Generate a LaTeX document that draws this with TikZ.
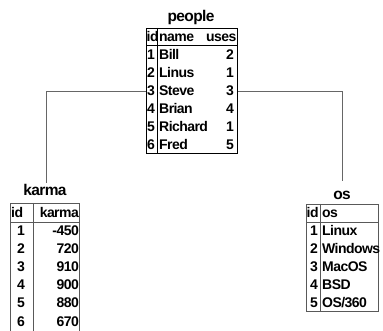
\documentclass[tikz,border=0pt]{standalone}
\usepackage{fontspec}
\newfontfamily\hv{Liberation Sans Bold}[LetterSpace=-4]
\begin{document}
\begin{tikzpicture}[x=1pt,y=-1pt,
  txt/.style={inner sep=0pt, font=\hv\fontsize{14}{14}\selectfont, text height=10pt, text depth=0pt},
  ttl/.style={txt, font=\hv\fontsize{15.5}{15.5}\selectfont},
  tbl/.style={draw=black, line width=0.8pt},
  tblg/.style={draw=black!65, line width=0.8pt},
  conn/.style={draw=black!60, line width=0.8pt}]
\useasboundingbox (0,0) rectangle (383,331);
% people
\node[ttl] (ptitle) at (191,17) {people};
\node[tbl, rectangle, minimum width=91pt, minimum height=125pt, inner sep=0pt, anchor=north west] (ptab) at (146,28) {};
\draw[tbl] (146,45) -- (237,45);
\draw[tbl] (157,28) -- (157,153);
\node[txt, anchor=west] (ph1) at (146.5,37) {id};
\node[txt, anchor=west] (ph2) at (159,37) {name};
\node[txt, anchor=east] (ph3) at (236.5,37) {uses};
\foreach \i/\n/\u [count=\k] in {1/Bill/2,2/Linus/1,3/Steve/3,4/Brian/4,5/Richard/1,6/Fred/5}{
  \node[txt, anchor=west] (pid\k) at (147,37+18*\k) {\i};
  \node[txt, anchor=west] (pn\k) at (159,37+18*\k) {\n};
  \node[txt, anchor=east] (pu\k) at (234,37+18*\k) {\u};
}
% karma
\node[ttl] (ktitle) at (45,191) {karma};
\draw[tblg] (10,331) -- (10,203) -- (79,203) -- (79,331);
\draw[tblg] (10,222) -- (79,222);
\draw[tblg] (33,203) -- (33,331);
\node[txt, anchor=west] (kh1) at (11,213) {id};
\node[txt, anchor=east] (kh2) at (79,213) {karma};
\foreach \i/\v [count=\k] in {1/-450,2/720,3/910,4/900,5/880,6/670}{
  \node[txt] (kid\k) at (21,213+18*\k) {\i};
  \node[txt, anchor=east] (kv\k) at (79,213+18*\k) {\v};
}
% os
\node[ttl] (otitle) at (342,195) {os};
\node[tblg, rectangle, minimum width=72pt, minimum height=107pt, inner sep=0pt, anchor=north west] (otab) at (306,204) {};
\draw[tblg] (306,222) -- (378,222);
\draw[tblg] (320,204) -- (320,311);
\node[txt, anchor=west] (oh1) at (306.5,213) {id};
\node[txt, anchor=west] (oh2) at (322,213) {os};
\foreach \i/\n [count=\k] in {1/Linux,2/Windows,3/MacOS,4/BSD,5/{OS/360}}{
  \node[txt, anchor=east] (oid\k) at (318,213+18*\k) {\i};
  \node[txt, anchor=west] (on\k) at (322,213+18*\k) {\n};
}
% connectors
\coordinate (kc) at (46,183);
\coordinate (oc) at (342,181);
\draw[conn] (ptab.west |- pid3) -| (kc);
\draw[conn] (ptab.east |- pu3) -| (oc);
\end{tikzpicture}
\end{document}
